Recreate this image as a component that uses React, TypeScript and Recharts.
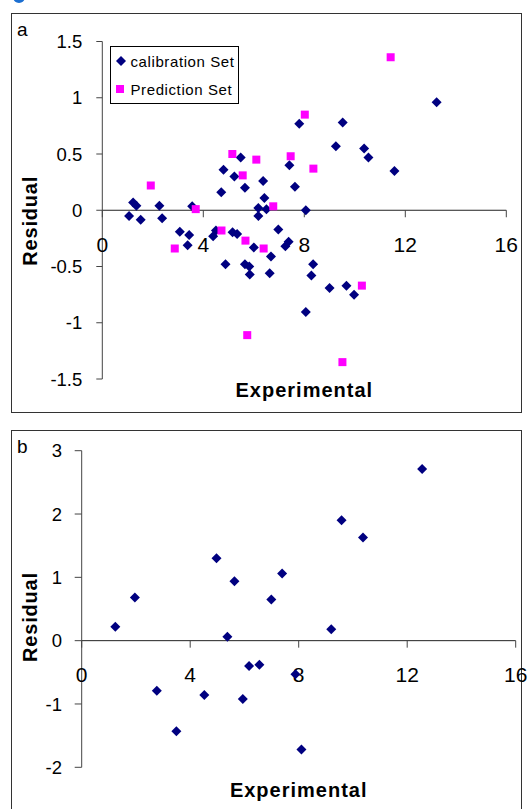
import React from "react";
import { ScatterChart, Scatter, XAxis, YAxis, ReferenceLine, ReferenceDot, Legend } from "recharts";

// panel a: calibration set residuals
const calibX = [1.06, 1.22, 1.35, 1.52, 2.26, 2.37, 3.07, 3.44, 3.38, 3.56, 4.39, 4.5, 4.71, 4.8, 4.88, 5.16, 5.23, 5.34, 5.48, 5.65, 5.65, 5.82, 5.84, 6.0, 6.18, 6.18, 6.37, 6.42, 6.5, 6.63, 6.68, 6.97, 7.25, 7.38, 7.41, 7.63, 7.8, 8.06, 8.06, 8.28, 8.35, 9.0, 9.25, 9.52, 9.67, 9.97, 10.37, 10.54, 11.57, 13.24];
const calibY = [-0.05, 0.07, 0.04, -0.085, 0.04, -0.07, -0.19, -0.22, -0.31, 0.035, -0.23, -0.18, 0.16, 0.36, -0.48, -0.195, 0.3, -0.21, 0.47, 0.2, -0.48, -0.5, -0.57, -0.33, -0.05, 0.02, 0.26, 0.11, 0.01, -0.56, -0.41, -0.17, -0.32, -0.28, 0.4, 0.21, 0.77, 0.0, -0.905, -0.58, -0.48, -0.69, 0.57, 0.78, -0.67, -0.75, 0.55, 0.47, 0.35, 0.96];

// panel a: prediction set residuals
const predX = [1.92, 2.87, 3.7, 4.72, 5.15, 5.56, 5.67, 5.74, 6.1, 6.39, 6.77, 7.46, 8.02, 8.36, 9.51, 10.28, 11.42];
const predY = [0.22, -0.34, 0.01, -0.18, 0.5, 0.31, -0.27, -1.11, 0.45, -0.34, 0.035, 0.48, 0.85, 0.37, -1.35, -0.67, 1.36];

// panel b
const bX = [1.24, 1.96, 2.77, 3.49, 4.52, 4.97, 5.37, 5.63, 5.94, 6.17, 6.55, 6.99, 7.39, 7.88, 8.1, 9.2, 9.58, 10.37, 12.55];
const bY = [0.22, 0.68, -0.79, -1.43, -0.86, 1.3, 0.06, 0.94, -0.92, -0.4, -0.38, 0.65, 1.06, -0.53, -1.72, 0.18, 1.9, 1.63, 2.71];

const seriesNames = ["calibration Set", "Prediction Set"];
const xTicks = [0, 4, 8, 12, 16];
const yTicksA = [-1.5, -1, -0.5, 0, 0.5, 1, 1.5];
const yTicksB = [-2, -1, 0, 1, 2, 3];

const NAVY = "#000080";
const MAGENTA = "#ff00ff";
const AXIS = "#444";
const FONT = "'Liberation Sans', Arial, sans-serif";

const toPoints = (xs: number[], ys: number[]) => xs.map((x, i) => ({ x, y: ys[i] }));

const Diamond = (props: any) => {
  const { cx, cy } = props;
  const r = 5;
  return <polygon points={`${cx},${cy - r} ${cx + r},${cy} ${cx},${cy + r} ${cx - r},${cy}`} fill={NAVY} />;
};

const Square = (props: any) => {
  const { cx, cy } = props;
  return <rect x={cx - 4} y={cy - 4} width={8} height={8} fill={MAGENTA} />;
};

// x ticks sit on the zero line, not at the bottom
const xTickAt = (value: number) => (p: any) => (
  <g>
    <line x1={p.cx} y1={p.cy} x2={p.cx} y2={p.cy + 7} stroke={AXIS} />
    <text x={p.cx} y={p.cy + 34} textAnchor="middle" dominantBaseline="central" fontSize={21} fontFamily={FONT} fill="#000">
      {value}
    </text>
  </g>
);

const yLabel = (dy: number) => (props: any) => {
  const vb = props.viewBox;
  const x = vb.x + 18;
  const y = vb.y + vb.height / 2 + dy;
  return (
    <text x={x} y={y} transform={`rotate(-90, ${x}, ${y})`} textAnchor="middle" dominantBaseline="central" fontSize={20} fontWeight="bold" letterSpacing={0.8} fontFamily={FONT} fill="#000">
      Residual
    </text>
  );
};

const xLabel = (dy: number) => (props: any) => {
  const vb = props.viewBox;
  return (
    <text x={vb.x + vb.width / 2} y={vb.y + dy} textAnchor="middle" fontSize={20} fontWeight="bold" letterSpacing={1} fontFamily={FONT} fill="#000">
      Experimental
    </text>
  );
};

const LegendBox = ({ payload }: any) => {
  const items = [...(payload || [])].sort((a: any, b: any) => seriesNames.indexOf(a.value) - seriesNames.indexOf(b.value));
  return (
    <svg width={129} height={58} style={{ display: "block" }}>
      <rect x={0.5} y={0.5} width={128} height={57} fill="#fff" stroke="#000" />
      {items.map((entry: any, i: number) => {
        const cy = 15 + i * 28;
        return (
          <g key={entry.value}>
            {entry.value === seriesNames[0] ? <Diamond cx={11} cy={cy} /> : <Square cx={10} cy={cy} />}
            <text x={20.5} y={cy} dominantBaseline="central" fontSize={15} letterSpacing={0.6} fontFamily={FONT} fill="#000">
              {entry.value}
            </text>
          </g>
        );
      })}
    </svg>
  );
};

const tickStyle = { fontSize: 18.5, fill: "#000", fontFamily: FONT };

export default function App() {
  return (
    <div style={{ position: "absolute", left: 0, top: 0, width: 529, height: 809, overflow: "hidden", background: "#fff" }}>
      <div style={{ position: "absolute", left: 13, top: -9, width: 12, height: 12, borderRadius: "50%", background: "#1c6fd1" }} />
      <div style={{ position: "absolute", left: 11, top: 12.5, width: 511, height: 400, border: "1px solid #333", boxSizing: "border-box" }} />
      <div style={{ position: "absolute", left: 11, top: 429.5, width: 511, height: 420, border: "1px solid #333", boxSizing: "border-box" }} />
      <div style={{ position: "absolute", left: 17, top: 20, fontSize: 19, lineHeight: "19px", fontFamily: FONT }}>a</div>
      <div style={{ position: "absolute", left: 17, top: 437, fontSize: 19, lineHeight: "19px", fontFamily: FONT }}>b</div>

      <div style={{ position: "absolute", left: 0, top: 0 }}>
        <ScatterChart width={529} height={412} margin={{ top: 41.5, right: 22.7, left: 12, bottom: 3 }}>
          <XAxis type="number" dataKey="x" domain={[0, 16]} ticks={xTicks} height={30} axisLine={false} tickLine={false} tick={false} label={{ content: xLabel(18) }} />
          <YAxis type="number" dataKey="y" domain={[-1.5, 1.5]} ticks={yTicksA} width={90.3} tickSize={6} tickMargin={14} tick={tickStyle} axisLine={{ stroke: AXIS }} tickLine={{ stroke: AXIS }} label={{ content: yLabel(10.5) }} />
          <ReferenceLine y={0} stroke="#222" />
          {xTicks.map((v) => (
            <ReferenceDot key={v} x={v} y={0} ifOverflow="visible" shape={xTickAt(v)} />
          ))}
          <Legend layout="vertical" align="center" verticalAlign="middle" content={<LegendBox />} wrapperStyle={{ left: 110, top: 46, width: "auto", height: "auto" }} />
          <Scatter name={seriesNames[0]} data={toPoints(calibX, calibY)} fill={NAVY} shape={Diamond} isAnimationActive={false} />
          <Scatter name={seriesNames[1]} data={toPoints(predX, predY)} fill={MAGENTA} shape={Square} isAnimationActive={false} />
        </ScatterChart>
      </div>

      <div style={{ position: "absolute", left: 0, top: 420 }}>
        <ScatterChart width={529} height={389} margin={{ top: 30.7, right: 13.3, left: 12, bottom: 5.7 }}>
          <XAxis type="number" dataKey="x" domain={[0, 16]} ticks={xTicks} height={36} axisLine={false} tickLine={false} tick={false} label={{ content: xLabel(30) }} />
          <YAxis type="number" dataKey="y" domain={[-2, 3]} ticks={yTicksB} width={69.7} tickSize={7} tickMargin={12.7} tick={tickStyle} axisLine={{ stroke: AXIS }} tickLine={{ stroke: AXIS }} label={{ content: yLabel(8) }} />
          <ReferenceLine y={0} stroke="#222" />
          {xTicks.map((v) => (
            <ReferenceDot key={v} x={v} y={0} ifOverflow="visible" shape={xTickAt(v)} />
          ))}
          <Scatter name="test" data={toPoints(bX, bY)} fill={NAVY} shape={Diamond} legendType="none" isAnimationActive={false} />
        </ScatterChart>
      </div>
    </div>
  );
}
